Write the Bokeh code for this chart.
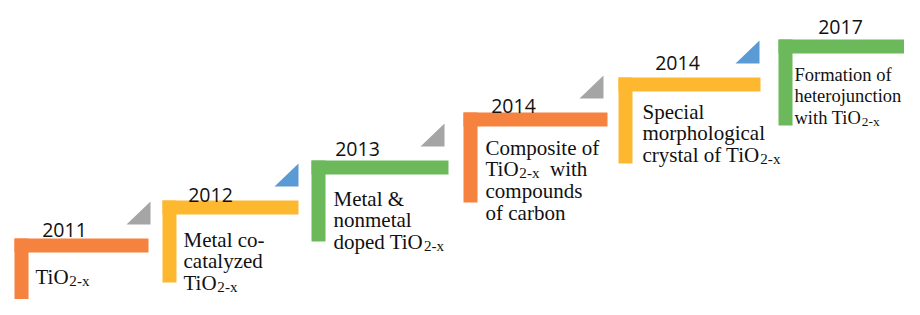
import re
from bokeh.plotting import figure
from bokeh.models import Range1d, ColumnDataSource
from bokeh.embed import file_html
from bokeh.resources import INLINE
from bokeh.core.properties import value

# ---------------- data ----------------
years = ["2011", "2012", "2013", "2014", "2014", "2017"]
descriptions = [
    ["TiO_{2-x}"],
    ["Metal co-", "catalyzed", "TiO_{2-x}"],
    ["Metal &", "nonmetal", "doped TiO_{2-x}"],
    ["Composite of", "TiO_{2-x}  with", "compounds", "of carbon"],
    ["Special", "morphological", "crystal of TiO_{2-x}"],
    ["Formation of", "heterojunction", "with TiO_{2-x}"],
]
step_colors = ["#F5823E", "#FDB82F", "#6CB95B", "#F5823E", "#FDB82F", "#6CB95B"]
marker_colors = ["#A5A5A5", "#5B9BD5", "#A5A5A5", "#A5A5A5", "#5B9BD5", None]

# ---------------- layout (page pixel coordinates) ----------------
step_left = [14, 162, 311, 463, 618, 778]
step_top = [238, 200, 160, 112, 77, 39]
step_right = [148, 298, 448, 607, 760, 930]
stem_bottom = [330, 282, 241, 202, 163, 125]
marker_right = [150, 298, 444, 603, 759, None]
year_cx = [64, 210, 357, 513, 677, 840]
year_base = [229, 194, 148, 105, 62, 26]
desc_x = [35, 183, 333, 485, 642, 794]
desc_base = [276, 239, 198, 147, 111, 74]
desc_fs = [21, 21, 21, 21, 21, 18.5]

BAR = 14
TRI = 23
LINE = 21.7

TIMES = {
    ' ': 250, '&': 778, '-': 333, '2': 500,
    'a': 444, 'b': 500, 'c': 444, 'd': 500, 'e': 444, 'f': 333, 'g': 500, 'h': 500,
    'i': 278, 'j': 278, 'k': 500, 'l': 278, 'm': 778, 'n': 500, 'o': 500, 'p': 500,
    'q': 500, 'r': 333, 's': 389, 't': 278, 'u': 500, 'v': 500, 'w': 722, 'x': 500,
    'y': 500, 'z': 444,
    'C': 667, 'F': 556, 'M': 889, 'O': 722, 'S': 556, 'T': 611,
}


def tw(s, size):
    return sum(TIMES.get(c, 500) for c in s) * size / 1000.0


p = figure(width=904, height=299, output_backend="svg", toolbar_location=None,
           x_range=Range1d(0, 904), y_range=Range1d(299, 0),
           min_border=0, outline_line_color=None, background_fill_color="white",
           border_fill_color="white")
p.axis.visible = False
p.grid.visible = False

# horizontal bars and stems
hb = dict(left=[], right=[], top=[], bottom=[], color=[])
for i in range(len(years)):
    hb["left"].append(step_left[i]); hb["right"].append(step_right[i])
    hb["top"].append(step_top[i]); hb["bottom"].append(step_top[i] + BAR)
    hb["color"].append(step_colors[i])
    hb["left"].append(step_left[i]); hb["right"].append(step_left[i] + BAR)
    hb["top"].append(step_top[i]); hb["bottom"].append(stem_bottom[i])
    hb["color"].append(step_colors[i])
p.quad(left="left", right="right", top="top", bottom="bottom", color="color",
       line_color=None, source=ColumnDataSource(hb))

# triangle markers
txs, tys, tcs = [], [], []
for i in range(len(years)):
    if marker_colors[i] is None:
        continue
    r = marker_right[i]
    b = step_top[i] - BAR
    txs.append([r - TRI - 1, r, r])
    tys.append([b, b, b - TRI])
    tcs.append(marker_colors[i])
p.patches(xs=txs, ys=tys, color=tcs, line_color=None)

# year labels
p.text(x=year_cx, y=year_base, text=years, text_align="center",
       text_baseline="alphabetic", text_font=value("Open Sans"),
       text_font_size="19.5px", text_color="#111111")

# descriptions
seg = dict(x=[], y=[], text=[], size=[])
for i, lines in enumerate(descriptions):
    fs = desc_fs[i]
    sub_fs = fs * 0.72
    for j, line in enumerate(lines):
        x = desc_x[i]
        y = desc_base[i] + j * LINE
        parts = re.split(r"_\{(.*?)\}", line)
        for k, part in enumerate(parts):
            if part == "":
                continue
            is_sub = (k % 2 == 1)
            size = sub_fs if is_sub else fs
            stripped = part.lstrip(" ")
            x += tw(part[:len(part) - len(stripped)], size)
            seg["x"].append(x)
            seg["y"].append(y + (4 if is_sub else 0))
            seg["text"].append(stripped)
            seg["size"].append(f"{size:.1f}px")
            x += tw(stripped, size)
p.text(x="x", y="y", text="text", text_font_size="size", source=ColumnDataSource(seg),
       text_align="left", text_baseline="alphabetic",
       text_font=value("Liberation Serif"), text_color="#111111")

open("out.html", "w").write(file_html(p, INLINE))
